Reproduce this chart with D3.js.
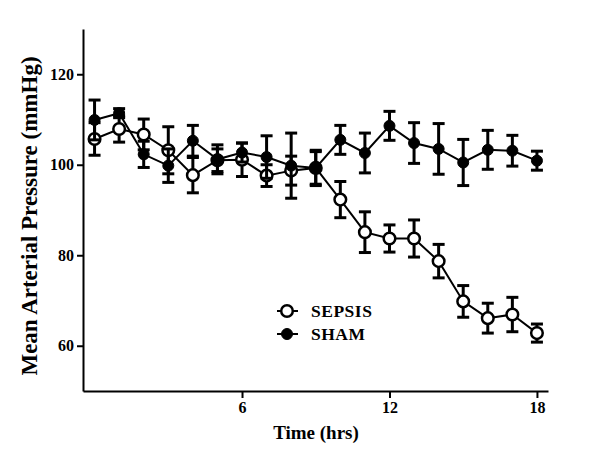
<!DOCTYPE html>
<html><head><meta charset="utf-8">
<script src="https://cdn.jsdelivr.net/npm/d3@7"></script>
<style>body{margin:0;background:#fff}svg{display:block}text{font-family:"Liberation Serif","Times New Roman",serif;font-weight:bold;fill:#000}</style>
</head><body>
<svg id="c" width="600" height="458"></svg>
<script>
const hours = [0,1,2,3,4,5,6,7,8,9,10,11,12,13,14,15,16,17,18];
const sepsisMean = [105.7,107.9,106.7,103.2,97.7,101.0,101.1,97.6,98.7,99.3,92.3,85.1,83.7,83.7,78.7,69.8,66.1,66.9,62.8];
const sepsisSE   = [3.6,2.9,3.4,5.2,3.9,2.5,3.7,2.4,3.2,3.6,4.0,4.5,3.0,4.1,3.7,3.5,3.3,3.8,2.0];
const shamMean   = [109.9,111.4,102.3,99.8,105.3,101.2,102.7,101.7,99.8,99.3,105.5,102.6,108.6,104.8,103.5,100.5,103.3,103.1,100.9];
const shamSE     = [4.4,1.0,2.9,3.7,3.4,3.2,2.1,4.7,7.2,3.9,3.2,4.4,3.2,4.5,5.6,5.1,4.3,3.4,2.1];
const xTicks = [6,12,18];
const yTicks = [60,80,100,120];
const seriesNames = ["SEPSIS","SHAM"];

const svg = d3.select("#c");
const x = d3.scaleLinear().domain([-0.47,18.45]).range([83,548]);
const y = d3.scaleLinear().domain([50,130]).range([391,29]);

// axes
const xa = svg.append("g").attr("transform","translate(0,391)")
  .call(d3.axisBottom(x).tickValues(xTicks).tickSize(7).tickPadding(4).tickSizeOuter(0));
const ya = svg.append("g").attr("transform","translate(83,0)")
  .call(d3.axisLeft(y).tickValues(yTicks).tickSize(6).tickPadding(3).tickSizeOuter(0));
[xa,ya].forEach(a=>{
  a.select(".domain").attr("stroke","#000").attr("stroke-width",2);
  a.selectAll(".tick line").attr("stroke","#000").attr("stroke-width",2);
  a.selectAll(".tick text").style("font-family",'"Liberation Serif",serif').style("font-weight","bold").style("font-size","16px").attr("fill","#000");
});

svg.append("text").attr("x",316).attr("y",439).attr("text-anchor","middle").style("font-size","19px").text("Time (hrs)");
svg.append("text").attr("transform","translate(37,216) rotate(-90)").attr("text-anchor","middle").style("font-size","23px").text("Mean Arterial Pressure (mmHg)");

function drawSeries(means, ses, filled){
  const g = svg.append("g");
  const data = hours.map((h,i)=>({h, m:means[i], s:ses[i]}));
  const eb = g.append("g").attr("stroke","#000").attr("stroke-width",3);
  data.forEach(d=>{
    eb.append("line").attr("x1",x(d.h)).attr("x2",x(d.h)).attr("y1",y(d.m+d.s)).attr("y2",y(d.m-d.s));
    [d.m+d.s,d.m-d.s].forEach(v=>eb.append("line").attr("x1",x(d.h)-6).attr("x2",x(d.h)+6).attr("y1",y(v)).attr("y2",y(v)));
  });
  g.append("path").datum(data).attr("fill","none").attr("stroke","#000").attr("stroke-width",2)
    .attr("d",d3.line().x(d=>x(d.h)).y(d=>y(d.m)));
  g.selectAll("circle").data(data).join("circle")
    .attr("cx",d=>x(d.h)).attr("cy",d=>y(d.m))
    .attr("r",filled?5.5:5.8)
    .attr("fill",filled?"#000":"#fff").attr("stroke","#000").attr("stroke-width",filled?1:2.5);
}
drawSeries(sepsisMean, sepsisSE, false);
drawSeries(shamMean, shamSE, true);

// legend
const leg = svg.append("g");
seriesNames.forEach((n,i)=>{
  const cy = 311 + i*23;
  leg.append("line").attr("x1",277).attr("x2",298).attr("y1",cy).attr("y2",cy).attr("stroke","#000").attr("stroke-width",2);
  leg.append("circle").attr("cx",287).attr("cy",cy).attr("r",i===0?5.8:5.5)
    .attr("fill",i===0?"#fff":"#000").attr("stroke","#000").attr("stroke-width",i===0?2.5:1);
  leg.append("text").attr("x",311).attr("y",cy+6).style("font-size","17.5px").style("letter-spacing","0.5px").text(n);
});
</script>
</body></html>
